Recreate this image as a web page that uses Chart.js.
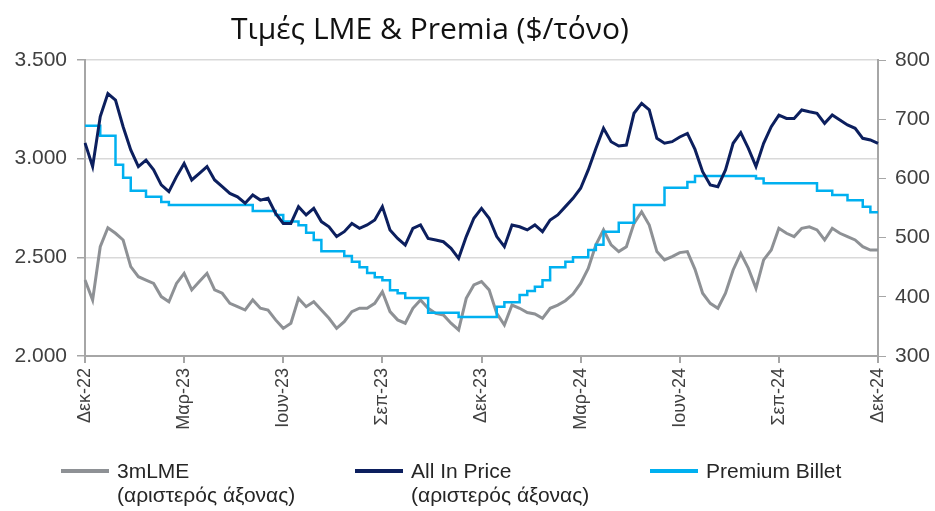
<!DOCTYPE html>
<html>
<head>
<meta charset="utf-8">
<script src="https://cdn.jsdelivr.net/npm/chart.js@4.4.1/dist/chart.umd.min.js"></script>
<style>
html, body { margin: 0; padding: 0; background: #fff; }
#wrap { position: relative; width: 935px; height: 511px; }
.lg-item { position: absolute; top: 459px; font-family: "Liberation Sans", Arial, sans-serif; font-size: 21px; color: #262626; line-height: 24px; }
.lg-line { position: absolute; left: 0; top: 10px; width: 48px; height: 4px; }
.lg-text { position: absolute; left: 56px; top: 0; white-space: nowrap; }
</style>
</head>
<body>
<div id="wrap">
  <canvas id="myChart" width="935" height="511"></canvas>
  <div id="legend"></div>
</div>
<script>
// chart title
const titleText = 'Τιμές LME & Premia ($/τόνο)';

// quarter tick labels (every 13 weeks)
const tickLabels = ['Δεκ-22', 'Μαρ-23', 'Ιουν-23', 'Σεπ-23', 'Δεκ-23', 'Μαρ-24', 'Ιουν-24', 'Σεπ-24', 'Δεκ-24'];

// weekly values, Dec-22 .. Dec-24
const lme = [
  2385, 2284, 2554, 2650, 2622, 2588, 2453, 2402, 2385, 2368,
  2301, 2275, 2368, 2419, 2335, 2377, 2419, 2335, 2318, 2267,
  2250, 2233, 2284, 2242, 2233, 2183, 2140, 2166, 2292, 2250,
  2275, 2233, 2191, 2140, 2174, 2225, 2242, 2242, 2267, 2326,
  2225, 2183, 2166, 2242, 2284, 2242, 2216, 2208, 2166, 2132,
  2292, 2360, 2377, 2335, 2216, 2157, 2258, 2242, 2220, 2213,
  2191, 2242, 2258, 2280, 2314, 2368, 2444, 2563, 2639, 2563,
  2529, 2554, 2672, 2731, 2664, 2529, 2487, 2504, 2524, 2529,
  2439, 2318, 2267, 2242, 2318, 2436, 2520, 2444, 2343, 2487,
  2537, 2647, 2622, 2605, 2647, 2655, 2639, 2588, 2647, 2622,
  2605, 2588, 2554, 2537, 2537
];

const allIn = [
  3080, 2960, 3213, 3330, 3297, 3162, 3044, 2960, 2993, 2943,
  2867, 2833, 2909, 2976, 2892, 2926, 2960, 2892, 2858, 2824,
  2807, 2774, 2816, 2790, 2799, 2723, 2672, 2672, 2757, 2715,
  2748, 2681, 2655, 2605, 2630, 2672, 2647, 2664, 2689, 2757,
  2639, 2596, 2562, 2647, 2664, 2596, 2588, 2579, 2546, 2495,
  2605, 2698, 2748, 2698, 2605, 2554, 2664, 2655, 2639, 2664,
  2630, 2689, 2715, 2757, 2799, 2850, 2943, 3052, 3154, 3086,
  3064, 3069, 3230, 3280, 3247, 3103, 3078, 3086, 3110, 3128,
  3047, 2934, 2867, 2858, 2943, 3078, 3132, 3052, 2960, 3078,
  3162, 3221, 3204, 3204, 3247, 3238, 3230, 3179, 3221, 3196,
  3171, 3154, 3103, 3095, 3078
];

const premium = [
  689, 689, 672, 672, 623, 601, 579, 579, 569, 569,
  560, 555, 555, 555, 555, 555, 555, 555, 555, 555,
  555, 555, 545, 545, 545, 538, 527, 527, 521, 508,
  496, 477, 477, 477, 469, 459, 450, 440, 433, 428,
  411, 406, 398, 398, 398, 373, 373, 373, 373, 366,
  366, 366, 366, 366, 383, 391, 391, 403, 410, 417,
  428, 450, 450, 459, 467, 467, 479, 488, 510, 510,
  525, 525, 555, 555, 555, 555, 584, 584, 584, 594,
  604, 604, 604, 604, 604, 604, 604, 604, 600, 592,
  592, 592, 592, 592, 592, 592, 579, 579, 572, 572,
  563, 563, 552, 543, 543
];

const subLabel = '(αριστερός άξονας)';

const weeks = allIn.map((v, i) => i);

function fmt(v) {
  return String(v).replace(/\B(?=(\d{3})+(?!\d))/g, '.');
}

const titlePlugin = {
  id: 'titleText',
  afterDraw(chart) {
    const c = chart.ctx;
    c.save();
    c.font = '30px "Open Sans"';
    c.fillStyle = '#111';
    c.textAlign = 'center';
    c.textBaseline = 'middle';
    c.fillText(titleText, 430, 30);
    c.restore();
  }
};

const axisGray = '#a6a6a6';
const tickFont = { family: 'Liberation Sans', size: 21 };

var ctx = document.getElementById('myChart').getContext('2d');
var myChart = new Chart(ctx, {
  type: 'line',
  data: {
    labels: weeks,
    datasets: [{
      label: '3mLME',
      sub: subLabel,
      data: lme,
      yAxisID: 'y',
      borderColor: '#8e9195',
      borderWidth: 3,
      pointRadius: 0,
      tension: 0,
      order: 2
    }, {
      label: 'All In Price',
      sub: subLabel,
      data: allIn,
      yAxisID: 'y',
      borderColor: '#0c1f5e',
      borderWidth: 3,
      pointRadius: 0,
      tension: 0,
      order: 0
    }, {
      label: 'Premium Billet',
      sub: '',
      data: premium,
      yAxisID: 'y1',
      borderColor: '#00b0f0',
      borderWidth: 2.5,
      pointRadius: 0,
      stepped: true,
      order: 1
    }]
  },
  options: {
    responsive: false,
    animation: false,
    devicePixelRatio: 1,
    layout: { padding: { top: 60, bottom: 70, left: 0, right: 0 } },
    plugins: {
      legend: { display: false },
      tooltip: { enabled: false }
    },
    scales: {
      x: {
        type: 'category',
        offset: false,
        grid: { display: true, drawOnChartArea: false, drawTicks: true, tickLength: 7, color: axisGray, lineWidth: 2 },
        border: { display: true, color: axisGray, width: 2 },
        ticks: {
          autoSkip: false,
          maxRotation: 90,
          minRotation: 90,
          padding: 5,
          color: '#404040',
          font: { family: 'Liberation Sans', size: 18 },
          callback: function(v, i) { return i % 13 === 0 ? tickLabels[i / 13] : null; }
        },
        afterFit: function(s) { s.height = 85; }
      },
      y: {
        position: 'left',
        min: 2000,
        max: 3500,
        grid: { color: '#d9d9d9', lineWidth: 1.5, tickColor: axisGray, tickLength: 8 },
        border: { display: true, color: axisGray, width: 2 },
        ticks: { stepSize: 500, padding: 10, color: '#404040', font: tickFont, callback: v => fmt(v) },
        afterFit: function(s) { s.width = 85; }
      },
      y1: {
        position: 'right',
        min: 300,
        max: 800,
        grid: { drawOnChartArea: false, tickColor: axisGray, tickLength: 8 },
        border: { display: true, color: axisGray, width: 2 },
        ticks: { stepSize: 100, padding: 9, color: '#404040', font: tickFont },
        afterFit: function(s) { s.width = 57; }
      }
    }
  },
  plugins: [titlePlugin]
});

// legend below the chart, built from the datasets
const legendX = [61, 355, 650];
const legend = document.getElementById('legend');
myChart.data.datasets.forEach(function(ds, i) {
  const item = document.createElement('div');
  item.className = 'lg-item';
  item.style.left = legendX[i] + 'px';
  const line = document.createElement('div');
  line.className = 'lg-line';
  line.style.background = ds.borderColor;
  const txt = document.createElement('div');
  txt.className = 'lg-text';
  txt.innerHTML = ds.label + (ds.sub ? '<br>' + ds.sub : '');
  item.appendChild(line);
  item.appendChild(txt);
  legend.appendChild(item);
});
</script>
</body>
</html>
